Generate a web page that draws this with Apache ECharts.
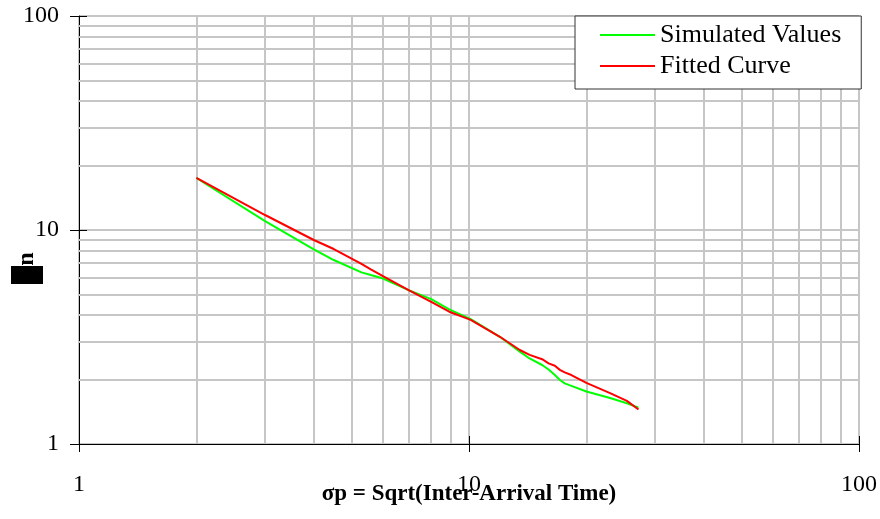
<!DOCTYPE html>
<html>
<head>
<meta charset="utf-8">
<script src="https://cdn.jsdelivr.net/npm/echarts@6/dist/echarts.min.js"></script>
<style>
html,body{margin:0;padding:0;background:#fff;overflow:hidden;}
#chart{width:880px;height:519px;}
</style>
</head>
<body>
<div id="chart"></div>
<script>
// ---- data ----
var xValues   = [2.0, 3.0, 4.0, 4.5, 5.3, 5.6, 6.0, 7.0, 8.0, 8.9, 10.1, 12.0, 13.5, 14.3, 15.4, 16.0, 16.6, 17.1, 17.6, 18.3, 20.0, 23.0, 25.4, 27.2];
var simulated = [17.5, 11.0, 8.12, 7.24, 6.34, 6.16, 5.95, 5.24, 4.75, 4.26, 3.83, 3.17, 2.70, 2.51, 2.34, 2.23, 2.10, 1.99, 1.92, 1.87, 1.76, 1.64, 1.55, 1.48];
var fitted    = [17.5, 11.75, 8.98, 8.15, 6.94, 6.55, 6.10, 5.24, 4.62, 4.15, 3.80, 3.17, 2.75, 2.61, 2.49, 2.38, 2.32, 2.22, 2.16, 2.10, 1.93, 1.73, 1.59, 1.45];
var minorGrid = [2, 3, 4, 5, 6, 7, 8, 9, 20, 30, 40, 50, 60, 70, 80, 90];
var seriesNames = ['Simulated Values', 'Fitted Curve'];
var xTitle = 'σp = Sqrt(Inter-Arrival Time)';
var yTitleSup = 'n';

var FONT = '"Liberation Serif", "Times New Roman", serif';
function pairs(xs, ys) { return xs.map(function (x, i) { return [x, ys[i]]; }); }

var gridColor = '#c6c6c6';
var minorLines = [];
minorGrid.forEach(function (v) { minorLines.push({ xAxis: v }); minorLines.push({ yAxis: v }); });

var chart = echarts.init(document.getElementById('chart'), null, { renderer: 'canvas', width: 880, height: 519 });
chart.setOption({
  animation: false,
  backgroundColor: '#fff',
  grid: { left: 79, top: 16, width: 780, height: 428, containLabel: false, outerBoundsMode: 'none' },
  xAxis: [{
    type: 'log', logBase: 10, min: 1, max: 100, position: 'bottom',
    axisLine: { show: true, lineStyle: { color: '#000', width: 1 } },
    axisTick: { show: true, length: 8, lineStyle: { color: '#000' } },
    axisLabel: { color: '#000', fontFamily: FONT, fontSize: 24, margin: 29 },
    splitLine: { show: true, lineStyle: { color: gridColor, width: 2 } },
    name: xTitle, nameLocation: 'middle', nameGap: 39, nameMoveOverlap: false,
    nameTextStyle: { color: '#000', fontFamily: FONT, fontSize: 23, fontWeight: 'bold' }
  }, {
    type: 'log', logBase: 10, min: 1, max: 100, position: 'bottom',
    axisLine: { show: false },
    axisTick: { show: true, inside: true, length: 8, lineStyle: { color: '#000' } },
    axisLabel: { show: false },
    splitLine: { show: false }
  }],
  yAxis: [{
    type: 'log', logBase: 10, min: 1, max: 100, position: 'left',
    axisLine: { show: true, lineStyle: { color: '#000', width: 1 } },
    axisTick: { show: true, length: 9, lineStyle: { color: '#000' } },
    axisLabel: { color: '#000', fontFamily: FONT, fontSize: 24, margin: 20 },
    splitLine: { show: true, lineStyle: { color: gridColor, width: 2 } }
  }, {
    type: 'log', logBase: 10, min: 1, max: 100, position: 'left',
    axisLine: { show: false },
    axisTick: { show: true, inside: true, length: 8, lineStyle: { color: '#000' } },
    axisLabel: { show: false },
    splitLine: { show: false }
  }],
  legend: {
    orient: 'vertical', left: 575, top: 16, z: 10,
    data: seriesNames,
    icon: 'rect', itemWidth: 55, itemHeight: 2, itemGap: 5,
    padding: [6, 20, 10, 25],
    backgroundColor: '#fff', borderColor: '#333', borderWidth: 1,
    textStyle: { color: '#000', fontFamily: FONT, fontSize: 26, lineHeight: 25 }
  },
  graphic: [
    { type: 'rect', shape: { x: 11, y: 266, width: 32, height: 18 }, style: { fill: '#000' } },
    { type: 'text', x: 27, y: 259, rotation: Math.PI / 2,
      style: { text: yTitleSup, font: 'bold 24px ' + FONT, fill: '#000', align: 'center', verticalAlign: 'middle' } }
  ],
  series: [{
    name: '_grid', type: 'line', data: [], z: 1, silent: true,
    markLine: { silent: true, z: 1, symbol: 'none', label: { show: false },
      lineStyle: { color: gridColor, type: 'solid', width: 2 }, data: minorLines, animation: false }
  }, {
    name: seriesNames[0], type: 'line', data: pairs(xValues, simulated), z: 3,
    showSymbol: false, symbol: 'none', color: '#00ff00',
    lineStyle: { color: '#00ff00', width: 2 }
  }, {
    name: seriesNames[1], type: 'line', data: pairs(xValues, fitted), z: 4,
    showSymbol: false, symbol: 'none', color: '#ff0000',
    lineStyle: { color: '#ff0000', width: 2 }
  }]
});
</script>
</body>
</html>
